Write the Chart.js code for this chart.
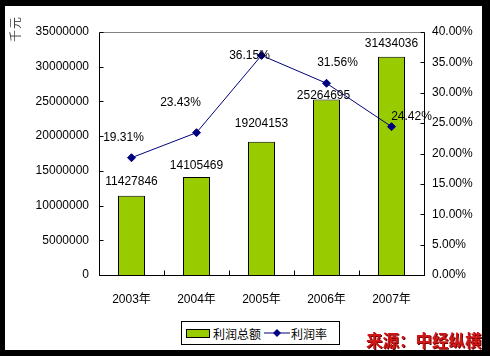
<!DOCTYPE html>
<html><head><meta charset="utf-8">
<script src="https://cdn.jsdelivr.net/npm/chart.js@4"></script>
<style>
html,body{margin:0;padding:0;background:#000;width:490px;height:356px;overflow:hidden;}
#white{position:absolute;left:5px;top:6px;width:477px;height:344px;background:#fff;}
#wrap{position:absolute;left:0;top:0;width:490px;height:356px;}
#ytitle{position:absolute;left:2px;top:22px;width:26px;height:14px;font:12px "Noto Sans CJK SC",sans-serif;color:#444;transform:rotate(-90deg);transform-origin:center;text-align:center;line-height:14px;letter-spacing:1px;}
#legend{position:absolute;left:181px;top:321px;width:159px;height:24px;box-sizing:border-box;border:1px solid #000;background:#fff;font:12px "Liberation Sans","Noto Sans CJK SC",sans-serif;display:flex;align-items:center;white-space:nowrap;}
#legend .sw{display:inline-block;width:22px;height:7px;background:#99CC00;border:1px solid #000;margin-left:4px;margin-right:3px;}
#legend svg{margin-left:3px;margin-right:1px;}
#src{position:absolute;left:366px;top:330px;font:bold 16.5px "Noto Sans CJK SC",sans-serif;color:#d01818;text-shadow:1px 1px 0 #7a0000;white-space:nowrap;line-height:20px;}
</style></head>
<body>
<div id="white"></div>
<div id="wrap"><canvas id="c" width="490" height="356"></canvas></div>
<div id="ytitle">千元</div>
<div id="legend"><span class="sw"></span><span>利润总额</span><svg width="26" height="10"><line x1="0" y1="5" x2="26" y2="5" stroke="#000080" stroke-width="1"/><polygon points="13,1 17,5 13,9 9,5" fill="#000080"/></svg><span>利润率</span></div>
<div id="src">来源：中经纵横</div>
<script>
const categories = ['2003年','2004年','2005年','2006年','2007年'];
const profitTotal = [11427846, 14105469, 19204153, 25264695, 31434036];
const profitRate = [19.31, 23.43, 36.15, 31.56, 24.42];
const seriesNames = ['利润总额','利润率'];

// label placement tweaks (relative offsets, styling only)
const barLabelOffsets = [[0,-14],[0,-11],[0,-18],[-3,-4],[0,-13]];
const lineLabelOffsets = [[-8,-20],[-16,-30],[-12,0],[11,-21],[20,-10]];

const FONT = '12px "Liberation Sans", Arial, "Noto Sans CJK SC", sans-serif';

const axesPlugin = {
  id:'axesPlugin',
  afterDraw(chart){
    const ctx = chart.ctx, a = chart.chartArea;
    const y = chart.scales.y, y1 = chart.scales.y1;
    const L = Math.round(a.left)+0.5, R = Math.round(a.right)+0.5, T = Math.round(a.top)+0.5, B = Math.round(a.bottom)+0.5;
    ctx.save();
    ctx.lineWidth = 1;
    ctx.strokeStyle = '#808080';
    ctx.beginPath(); ctx.moveTo(L,T); ctx.lineTo(R,T); ctx.stroke();
    ctx.strokeStyle = '#000';
    ctx.beginPath();
    ctx.moveTo(L,T); ctx.lineTo(L,B); ctx.lineTo(R,B);
    ctx.moveTo(R,T); ctx.lineTo(R,B);
    y.ticks.forEach(t=>{const p=Math.round(y.getPixelForValue(t.value))+0.5; ctx.moveTo(L,p); ctx.lineTo(L+4,p);});
    y1.ticks.forEach(t=>{const p=Math.round(y1.getPixelForValue(t.value))+0.5; ctx.moveTo(R,p); ctx.lineTo(R-4,p);});
    const n = categories.length, w = (a.right-a.left)/n;
    for(let i=0;i<=n;i++){const p=Math.round(a.left+w*i)+0.5; ctx.moveTo(p,B); ctx.lineTo(p,B-5);}
    ctx.stroke();
    ctx.restore();
  },
  afterDatasetsDraw(chart){
    const ctx = chart.ctx;
    ctx.save();
    ctx.font = FONT; ctx.fillStyle = '#000'; ctx.textAlign='center'; ctx.textBaseline='middle';
    chart.getDatasetMeta(0).data.forEach((el,i)=>{
      const o = barLabelOffsets[i];
      ctx.fillText(String(profitTotal[i]), el.x+o[0], el.y+o[1]);
    });
    chart.getDatasetMeta(1).data.forEach((el,i)=>{
      const o = lineLabelOffsets[i];
      ctx.fillText(profitRate[i].toFixed(2)+'%', el.x+o[0], el.y+o[1]);
    });
    ctx.restore();
  }
};

new Chart(document.getElementById('c'), {
  data:{
    labels: categories,
    datasets:[
      {type:'bar', label:seriesNames[0], data:profitTotal, yAxisID:'y', backgroundColor:'#99CC00', borderColor:'#000', borderWidth:1, categoryPercentage:1, barPercentage:0.415, order:1},
      {type:'line', label:seriesNames[1], data:profitRate, yAxisID:'y1', borderColor:'#000080', borderWidth:1, pointStyle:'rectRot', pointRadius:4, pointBackgroundColor:'#000080', pointBorderColor:'#000080', tension:0, order:0}
    ]
  },
  options:{
    responsive:false, animation:false,
    layout:{padding:{top:32,left:0,right:0,bottom:0}},
    plugins:{legend:{display:false}, tooltip:{enabled:false}},
    scales:{
      x:{
        grid:{display:false, drawTicks:false}, border:{display:false},
        ticks:{font:{size:12, family:'"Liberation Sans", Arial, "Noto Sans CJK SC", sans-serif'}, color:'#000', padding:17, maxRotation:0},
        afterFit(s){ s.height = 81; }
      },
      y:{
        position:'left', min:0, max:35000000,
        grid:{display:false, drawTicks:false}, border:{display:false},
        ticks:{stepSize:5000000, font:{size:12, family:'"Liberation Sans", Arial, sans-serif'}, color:'#000', padding:10, callback:v=>String(v)},
        afterFit(s){ s.width = 99; }
      },
      y1:{
        position:'right', min:0, max:40,
        grid:{display:false, drawTicks:false}, border:{display:false},
        ticks:{stepSize:5, font:{size:12, family:'"Liberation Sans", Arial, sans-serif'}, color:'#000', padding:8, callback:v=>Number(v).toFixed(2)+'%'},
        afterFit(s){ s.width = 66; }
      }
    }
  },
  plugins:[axesPlugin]
});
</script>
</body></html>
